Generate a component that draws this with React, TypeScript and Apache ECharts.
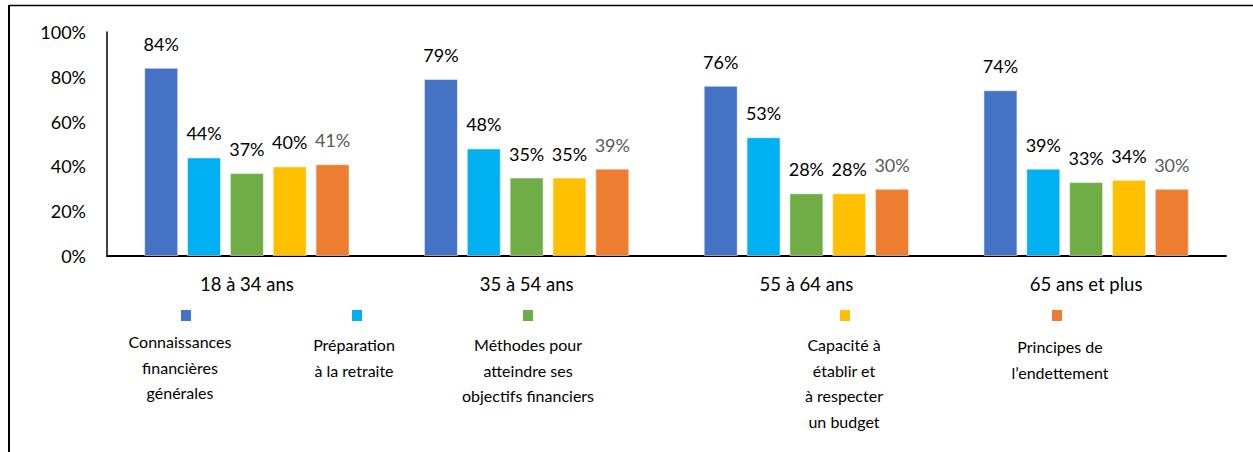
import React, { useEffect, useRef } from "react";
import * as echarts from "echarts";

const categories = ["18 à 34 ans", "35 à 54 ans", "55 à 64 ans", "65 ans et plus"];
const seriesNames = [
  "Connaissances\nfinancières\ngénérales",
  "Préparation\nà la retraite",
  "Méthodes pour\natteindre ses\nobjectifs financiers",
  "Capacité à\nétablir et\nà respecter\nun budget",
  "Principes de\nl’endettement",
];
const colors = ["#4472C4", "#00B0F0", "#70AD47", "#FFC000", "#ED7D31"];
const labelColors = ["#000000", "#000000", "#000000", "#000000", "#595959"];
const connaissances = [84, 79, 76, 74];
const preparation = [44, 48, 53, 39];
const methodes = [37, 35, 28, 33];
const capacite = [40, 35, 28, 34];
const principes = [41, 39, 30, 30];
const values = [connaissances, preparation, methodes, capacite, principes];
const yTicks = [0, 20, 40, 60, 80, 100];

const markerX = [186, 357, 528, 845, 1057];
const legendTextX = [180, 354, 528, 844, 1060];
const legendTextY = [329, 332, 332, 332, 334];
const FONT = "Lato";

export default function App() {
  const ref = useRef<HTMLDivElement>(null);
  useEffect(() => {
    if (!ref.current) return;
    const chart = echarts.init(ref.current, undefined, { renderer: "svg" });
    const graphics: any[] = [
      { type: "line", shape: { x1: 9, y1: 5.5, x2: 1253, y2: 5.5 }, style: { stroke: "#000", lineWidth: 1.5 } },
      { type: "line", shape: { x1: 9, y1: 5, x2: 9, y2: 452 }, style: { stroke: "#000", lineWidth: 2 } },
    ];
    seriesNames.forEach((n, i) => {
      graphics.push({
        type: "rect",
        shape: { x: markerX[i] - 5, y: 310, width: 10, height: 11 },
        style: { fill: colors[i] },
      });
      graphics.push({
        type: "text",
        x: legendTextX[i],
        y: legendTextY[i],
        style: {
          text: n,
          fill: "#000",
          fontFamily: FONT,
          fontSize: 16,
          lineHeight: 25.5,
          align: "center",
          verticalAlign: "top",
        },
      });
    });
    chart.setOption({
      animation: false,
      backgroundColor: "#fff",
      textStyle: { fontFamily: FONT },
      grid: { left: 107, right: 27, top: 32, bottom: 196 },
      xAxis: {
        type: "category",
        data: categories,
        axisLine: { lineStyle: { color: "#000", width: 2 } },
        axisTick: { show: false },
        axisLabel: { color: "#000", fontSize: 18.5, fontFamily: FONT, margin: 18 },
      },
      yAxis: {
        type: "value",
        min: 0,
        max: 100,
        interval: 20,
        axisLine: { show: true, lineStyle: { color: "#000", width: 1.5 } },
        axisTick: { show: false },
        splitLine: { show: false },
        axisLabel: {
          color: "#000",
          fontSize: 18,
          fontFamily: FONT,
          margin: 21,
          formatter: (v: number) => (yTicks.includes(v) ? `${v}%` : ""),
        },
      },
      series: values.map((d, i) => ({
        type: "bar",
        name: seriesNames[i],
        data: d,
        barWidth: 34,
        barGap: "26%",
        itemStyle: { color: colors[i], borderColor: "rgba(255,255,255,0.5)", borderWidth: 1 },
        label: {
          show: true,
          position: "top",
          distance: 15,
          formatter: "{c}%",
          color: labelColors[i],
          fontSize: 18,
          fontFamily: FONT,
        },
      })),
      graphic: graphics,
    });
    return () => chart.dispose();
  }, []);
  return (
    <div
      ref={ref}
      style={{ position: "fixed", left: 0, top: 0, width: 1253, height: 452 }}
    />
  );
}
